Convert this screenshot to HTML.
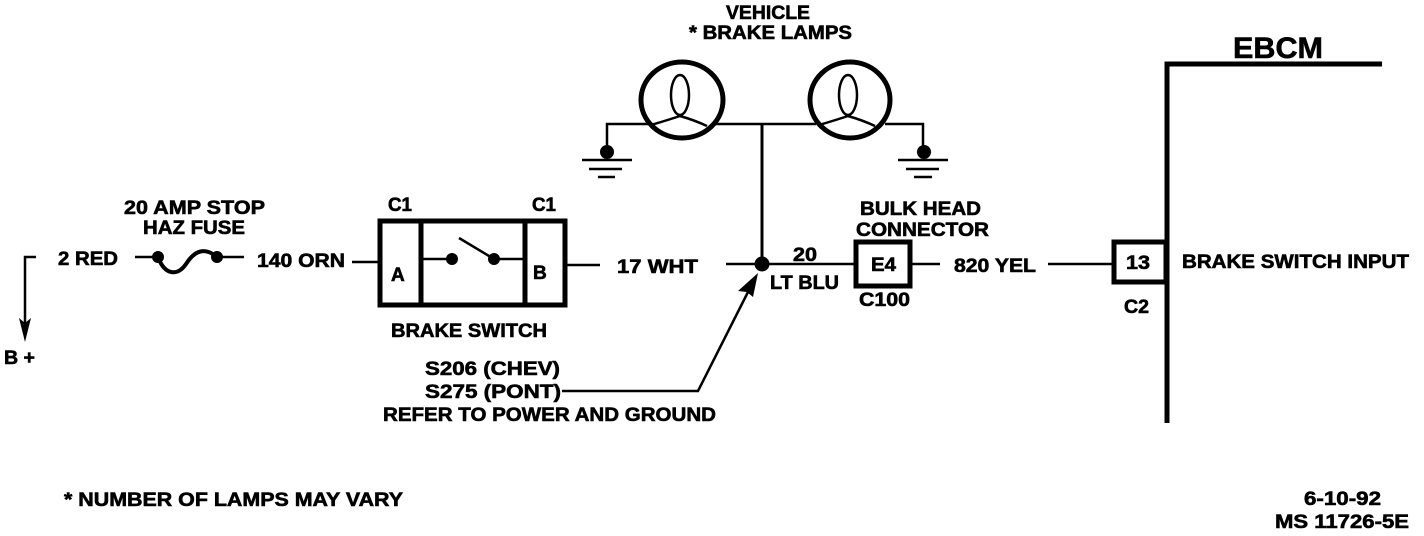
<!DOCTYPE html>
<html><head><meta charset="utf-8"><style>
html,body{margin:0;padding:0;background:#fff;width:1424px;height:536px;overflow:hidden}
svg{display:block}
text{font-family:"Liberation Sans",sans-serif;font-weight:bold;font-size:19px;fill:#000;stroke:#000;stroke-width:.6}
.w{fill:none;stroke:#000;stroke-width:2.5}
.b{fill:none;stroke:#000;stroke-width:5}
</style></head><body>
<svg width="1424" height="536" viewBox="0 0 1424 536" xmlns="http://www.w3.org/2000/svg">
<!-- lamps -->
<ellipse class="b" cx="682" cy="100" rx="41" ry="38"/>
<ellipse class="b" cx="850" cy="100" rx="40" ry="38"/>
<ellipse class="w" cx="680" cy="95" rx="9" ry="20"/>
<ellipse class="w" cx="848" cy="95" rx="9" ry="20"/>
<path class="w" d="M651 125Q668 120 680 116Q694 120 707 126M819 125Q836 120 848 116Q862 120 875 126"/>
<path class="w" d="M607 150V124H648M716 124H816M885 124H923V150"/>
<path d="M762 124V264" fill="none" stroke="#000" stroke-width="3"/>
<circle cx="607" cy="152" r="7"/><circle cx="924" cy="152" r="7"/>
<path class="w" d="M582 160H632M589 169H622M598 177H615M898 160H948M906 169H939M914 177H932"/>
<!-- supply -->
<path class="w" d="M36 257H25V325"/>
<path d="M25 342L19 318L25 323L31 318Z"/>
<path class="w" d="M135 257H158"/>
<path d="M158 257C165 276 178 276 186 264C195 250 205 247 217 257" fill="none" stroke="#000" stroke-width="4"/>
<circle cx="158" cy="257" r="6"/><circle cx="217" cy="257" r="6"/>
<path class="w" d="M217 257H244M352 262H379"/>
<!-- switch -->
<rect class="b" x="380" y="221" width="185" height="84"/>
<path class="b" d="M421 221V305M525 221V305"/>
<path class="w" d="M421 259H452M494 259H525M494 259L459 238M566 265H600"/>
<circle cx="452" cy="259" r="6"/><circle cx="494" cy="259" r="6"/>
<!-- bus -->
<path class="w" d="M726 264H854M912 264H940M1048 264H1112"/>
<circle cx="762" cy="264" r="7.5"/>
<rect class="b" x="856" y="242" width="54" height="44"/>
<rect class="b" x="1114" y="242" width="52" height="40"/>
<path class="b" d="M1382 64H1167V423"/>
<path class="w" d="M562 391H698L750 288"/>
<path d="M758 273L753 297L747 292L738 291Z"/>
<!-- labels -->
<g lengthAdjust="spacingAndGlyphs">
<text lengthAdjust="spacingAndGlyphs" x="726" y="19" textLength="84">VEHICLE</text>
<text lengthAdjust="spacingAndGlyphs" x="689" y="39" textLength="163">* BRAKE LAMPS</text>
<text lengthAdjust="spacingAndGlyphs" x="1233" y="58" textLength="90" style="font-size:30px">EBCM</text>
<text lengthAdjust="spacingAndGlyphs" x="124" y="214" textLength="141">20 AMP STOP</text>
<text lengthAdjust="spacingAndGlyphs" x="143" y="234" textLength="102">HAZ FUSE</text>
<text lengthAdjust="spacingAndGlyphs" x="58" y="265" textLength="60">2 RED</text>
<text lengthAdjust="spacingAndGlyphs" x="257" y="267" textLength="88">140 ORN</text>
<text lengthAdjust="spacingAndGlyphs" x="388" y="211" textLength="24">C1</text>
<text lengthAdjust="spacingAndGlyphs" x="532" y="211" textLength="24">C1</text>
<text x="391" y="281">A</text>
<text x="533" y="279">B</text>
<text lengthAdjust="spacingAndGlyphs" x="391" y="337" textLength="156">BRAKE SWITCH</text>
<text lengthAdjust="spacingAndGlyphs" x="617" y="273" textLength="81">17 WHT</text>
<text lengthAdjust="spacingAndGlyphs" x="793" y="261" textLength="24">20</text>
<text lengthAdjust="spacingAndGlyphs" x="770" y="289" textLength="69">LT BLU</text>
<text lengthAdjust="spacingAndGlyphs" x="860" y="215" textLength="121">BULK HEAD</text>
<text lengthAdjust="spacingAndGlyphs" x="856" y="236" textLength="133">CONNECTOR</text>
<text lengthAdjust="spacingAndGlyphs" x="871" y="271" textLength="25">E4</text>
<text lengthAdjust="spacingAndGlyphs" x="859" y="306" textLength="51">C100</text>
<text lengthAdjust="spacingAndGlyphs" x="954" y="272" textLength="82">820 YEL</text>
<text lengthAdjust="spacingAndGlyphs" x="1126" y="269" textLength="24">13</text>
<text lengthAdjust="spacingAndGlyphs" x="1124" y="313" textLength="25">C2</text>
<text lengthAdjust="spacingAndGlyphs" x="1182" y="268" textLength="227">BRAKE SWITCH INPUT</text>
<text lengthAdjust="spacingAndGlyphs" x="4" y="364" textLength="31">B +</text>
<text lengthAdjust="spacingAndGlyphs" x="425" y="375" textLength="135">S206 (CHEV)</text>
<text lengthAdjust="spacingAndGlyphs" x="425" y="398" textLength="136">S275 (PONT)</text>
<text lengthAdjust="spacingAndGlyphs" x="383" y="421" textLength="333">REFER TO POWER AND GROUND</text>
<text lengthAdjust="spacingAndGlyphs" x="64" y="506" textLength="339">* NUMBER OF LAMPS MAY VARY</text>
<text lengthAdjust="spacingAndGlyphs" x="1304" y="505" textLength="77">6-10-92</text>
<text lengthAdjust="spacingAndGlyphs" x="1275" y="528" textLength="134">MS 11726-5E</text>
</g>
</svg>
</body></html>
